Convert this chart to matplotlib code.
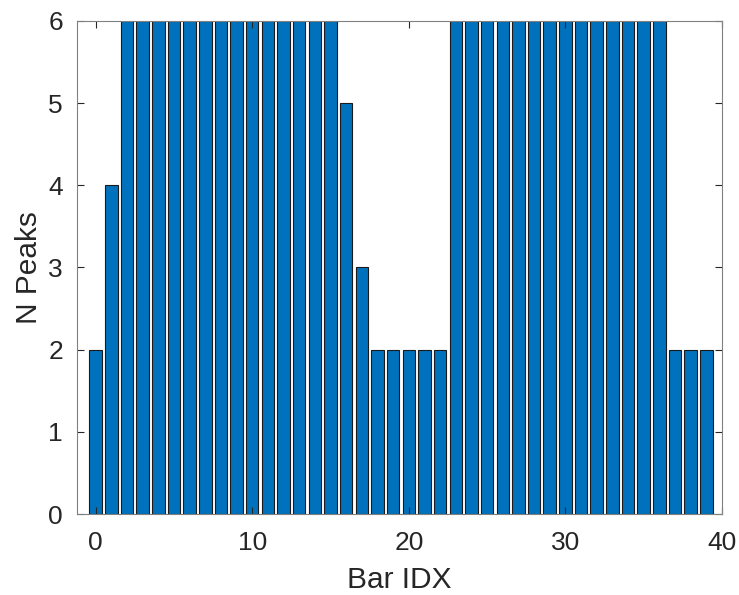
import matplotlib
matplotlib.use('Agg')
import matplotlib.pyplot as plt

plt.rcParams['font.family'] = ['Liberation Sans', 'DejaVu Sans']

#Bar indices and number of peaks per bar
bar_idx = list(range(40))
n_peaks = [2, 4, 6, 6, 6, 6, 6, 6, 6, 6, 6, 6, 6, 6, 6, 6, 5, 3, 2, 2,
           2, 2, 2, 6, 6, 6, 6, 6, 6, 6, 6, 6, 6, 6, 6, 6, 6, 2, 2, 2]
x_ticks = [0, 10, 20, 30, 40]
y_ticks = [0, 1, 2, 3, 4, 5, 6]

# Plot
fig = plt.figure(figsize=(7.39, 5.95), dpi=100)
ax = fig.add_axes([0.104, 0.136, 0.873, 0.829])
ax.bar(bar_idx, n_peaks, width=0.8, color='#0072BD', edgecolor='#1a1a1a', linewidth=0.8)
ax.set_xlim(-1.2, 40)
ax.set_ylim(0, 6)
ax.set_xticks(x_ticks)
ax.set_yticks(y_ticks)
ax.tick_params(direction='in', length=5, width=0.8, colors='#262626', labelsize=19,
               top=True, right=True, labelcolor='#262626')
ax.tick_params(axis='x', pad=12)
ax.tick_params(axis='y', pad=10)
for s in ax.spines.values():
    s.set_color('#808080')
    s.set_linewidth(0.8)
ax.set_xlabel('Bar IDX', fontsize=21.5, color='#262626', labelpad=8)
ax.set_ylabel('N Peaks', fontsize=21.5, color='#262626', labelpad=4)
fig.savefig('out.png', dpi=100)
